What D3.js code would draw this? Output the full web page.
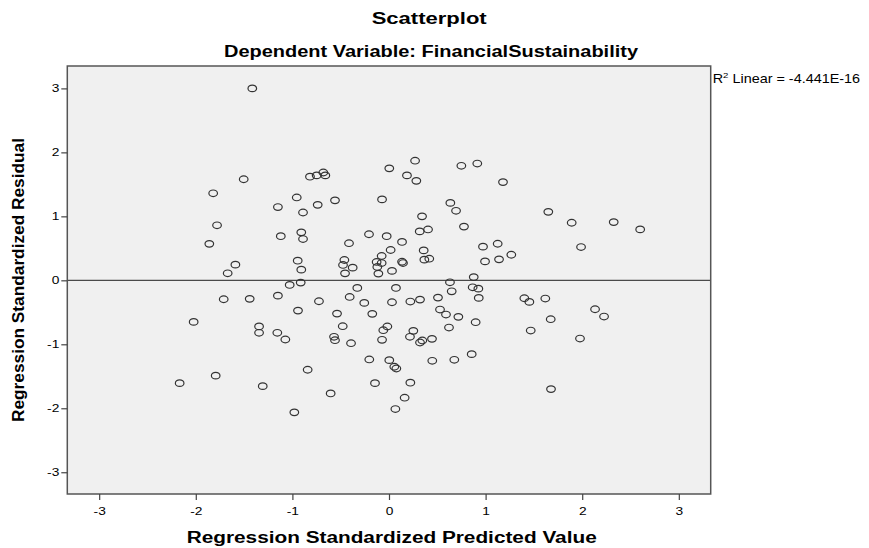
<!DOCTYPE html>
<html>
<head>
<meta charset="utf-8">
<script src="https://cdn.jsdelivr.net/npm/d3@7"></script>
<style>
  body { margin: 0; background: #fff; }
  text { font-family: "Liberation Sans", Arial, sans-serif; }
</style>
</head>
<body>
<div id="chartDiv"></div>
<script>
// predicted values (x) and residuals (y)
const predicted = [
  -1.415, -1.504, -1.82, -1.15, -1.78, -1.12, -1.86, -1.59, -1.67,
  -0.818, -0.749, -0.68, -0.659, 0.003, 0.27, 0.186, 0.283, 0.749, 0.914,
  -0.955, -0.89, -0.738, -0.559, -0.072, 0.635, 0.694, 0.342, 0.776,
  -0.908, -0.89, -0.207, -0.024, 0.318, 0.404, -0.414, 0.135, 0.017, 0.973,
  0.359, 0.994, -0.945, -0.908, -0.462, -0.476, -0.376, -0.455, -0.128,
  -0.076, -0.076, -0.121, -0.11, 0.031, 0.135, 0.145, 0.366, 0.417, 0.877,
  1.18, 1.649, 1.891, 2.326, 2.60, 1.988, 1.125, 1.139, 1.266,
  -1.711, -1.442, -1.15, -2.022, -1.345, -1.345, -1.156, -2.167, -1.794, -1.307,
  -1.028, -0.914, -0.725, -0.328, -0.407, -0.256, 0.072, 0.031, 0.221, 0.321,
  0.507, 0.631, 0.649, 0.866, 0.925, 0.929, -0.942, -0.538, -0.173, 0.528,
  0.59, 0.718, 0.621, 0.897, -1.073, -0.479, -0.569, -0.559, -0.393, -0.017,
  -0.059, -0.072, 0.252, 0.217, 0.321, 0.345, 0.445, -0.204, 0.003, 0.055,
  0.076, 0.448, 0.676, 0.856, -0.842, -0.145, 0.221, -0.604, 0.162, 0.066, -0.98,
  1.401, 1.453, 1.618, 2.133, 2.226, 1.674, 1.467, 1.977, 1.677
];
const residual = [
  3.00, 1.58, 1.36, 1.145, 0.86, 0.69, 0.57, 0.245, 0.11,
  1.62, 1.64, 1.685, 1.64, 1.75, 1.87, 1.64, 1.555, 1.79, 1.825,
  1.295, 1.06, 1.18, 1.25, 1.265, 1.21, 1.087, 1.0, 0.84,
  0.75, 0.645, 0.72, 0.69, 0.765, 0.795, 0.58, 0.60, 0.474, 0.526,
  0.468, 0.296, 0.307, 0.167, 0.318, 0.24, 0.198, 0.109, 0.287,
  0.27, 0.38, 0.209, 0.105, 0.147, 0.29, 0.27, 0.323, 0.338, 0.05,
  1.535, 1.07, 0.90, 0.91, 0.796, 0.52, 0.572, 0.328, 0.40,
  -0.296, -0.29, -0.24, -0.65, -0.72, -0.82, -0.82, -1.607, -1.49, -1.654,
  -0.072, -0.036, -0.327, -0.119, -0.26, -0.353, -0.119, -0.343, -0.332, -0.301,
  -0.27, -0.031, -0.172, -0.109, -0.13, -0.275, -0.473, -0.52, -0.524, -0.457,
  -0.535, -0.571, -0.738, -0.655, -0.925, -0.717, -0.883, -0.936, -0.983, -0.722,
  -0.78, -0.93, -0.79, -0.883, -0.972, -0.941, -0.915, -1.237, -1.248, -1.351,
  -1.378, -1.258, -1.242, -1.154, -1.398, -1.607, -1.60, -1.768, -1.835, -2.012, -2.064,
  -0.28, -0.337, -0.285, -0.452, -0.566, -0.608, -0.785, -0.91, -1.70
];
const xTicks = [-3, -2, -1, 0, 1, 2, 3];
const yTicks = [-3, -2, -1, 0, 1, 2, 3];

const canvasW = 869, canvasH = 548;
const svg = d3.select('#chartDiv')
  .append('svg')
  .attr('width', canvasW)
  .attr('height', canvasH);

const plot = {left: 67.3, right: 710.7, top: 66, bottom: 494};
const stretch = 1.25; // the picture's text is a bit wider than plain Arial

const x = d3.scaleLinear().domain([-3.33, 3.33]).range([plot.left, plot.right]);
const y = d3.scaleLinear().domain([-3.34, 3.35]).range([plot.bottom, plot.top]);

// plot background
svg.append('rect')
  .attr('x', plot.left).attr('y', plot.top)
  .attr('width', plot.right - plot.left)
  .attr('height', plot.bottom - plot.top)
  .attr('fill', '#f0f0f0');

// zero reference line
svg.append('line')
  .attr('x1', plot.left).attr('x2', plot.right)
  .attr('y1', y(0)).attr('y2', y(0))
  .attr('stroke', '#4a4a4a').attr('stroke-width', 1.3);

// points
svg.append('g')
  .selectAll('ellipse')
  .data(predicted.map((d, i) => ({x: d, y: residual[i]})))
  .enter()
  .append('ellipse')
  .attr('cx', d => x(d.x))
  .attr('cy', d => y(d.y))
  .attr('rx', 4.3)
  .attr('ry', 3.3)
  .attr('fill', 'none')
  .attr('stroke', '#333')
  .attr('stroke-width', 1.2);

// frame
svg.append('rect')
  .attr('x', plot.left).attr('y', plot.top)
  .attr('width', plot.right - plot.left)
  .attr('height', plot.bottom - plot.top)
  .attr('fill', 'none')
  .attr('stroke', '#555')
  .attr('stroke-width', 1.5);

// axes
const xAxis = d3.axisBottom(x).tickValues(xTicks).tickSize(6).tickSizeOuter(0)
  .tickFormat(d => String(d));
const yAxis = d3.axisLeft(y).tickValues(yTicks).tickSize(6).tickSizeOuter(0)
  .tickFormat(d => String(d));

const xAxisGroup = svg.append('g')
  .attr('transform', `translate(0, ${plot.bottom})`)
  .call(xAxis);
const yAxisGroup = svg.append('g')
  .attr('transform', `translate(${plot.left}, 0)`)
  .call(yAxis);

[xAxisGroup, yAxisGroup].forEach(g => {
  g.select('.domain').remove();
  g.selectAll('line').attr('stroke', '#444').attr('stroke-width', 1.2);
  g.selectAll('text')
    .attr('fill', '#000')
    .style('font-family', '"Liberation Sans", Arial, sans-serif')
    .style('font-size', '11px');
});
xAxisGroup.selectAll('text').attr('dy', null).attr('y', 21)
  .attr('transform', `scale(${stretch},1)`);
yAxisGroup.selectAll('text').attr('x', -8 / stretch)
  .attr('transform', `scale(${stretch},1)`);

// titles
svg.append('text')
  .attr('x', 371.7).attr('y', 24)
  .attr('textLength', 115).attr('lengthAdjust', 'spacingAndGlyphs')
  .style('font-size', '16px').style('font-weight', 'bold')
  .text('Scatterplot');

svg.append('text')
  .attr('x', 224).attr('y', 57)
  .attr('textLength', 414).attr('lengthAdjust', 'spacingAndGlyphs')
  .style('font-size', '16px').style('font-weight', 'bold')
  .text('Dependent Variable: FinancialSustainability');

svg.append('text')
  .attr('x', 186.7).attr('y', 543)
  .attr('textLength', 410).attr('lengthAdjust', 'spacingAndGlyphs')
  .style('font-size', '16px').style('font-weight', 'bold')
  .text('Regression Standardized Predicted Value');

svg.append('text')
  .attr('transform', 'translate(24, 422) rotate(-90)')
  .attr('textLength', 284).attr('lengthAdjust', 'spacingAndGlyphs')
  .style('font-size', '16px').style('font-weight', 'bold')
  .text('Regression Standardized Residual');

// fit line annotation
const r2 = svg.append('g')
  .attr('transform', 'translate(712.7, 83) scale(1.2,1)')
  .append('text')
  .style('font-size', '12px');
r2.append('tspan').text('R');
r2.append('tspan').attr('dy', -5).style('font-size', '8px').text('2');
r2.append('tspan').attr('dy', 5).text(' Linear = -4.441E-16');
</script>
</body>
</html>
